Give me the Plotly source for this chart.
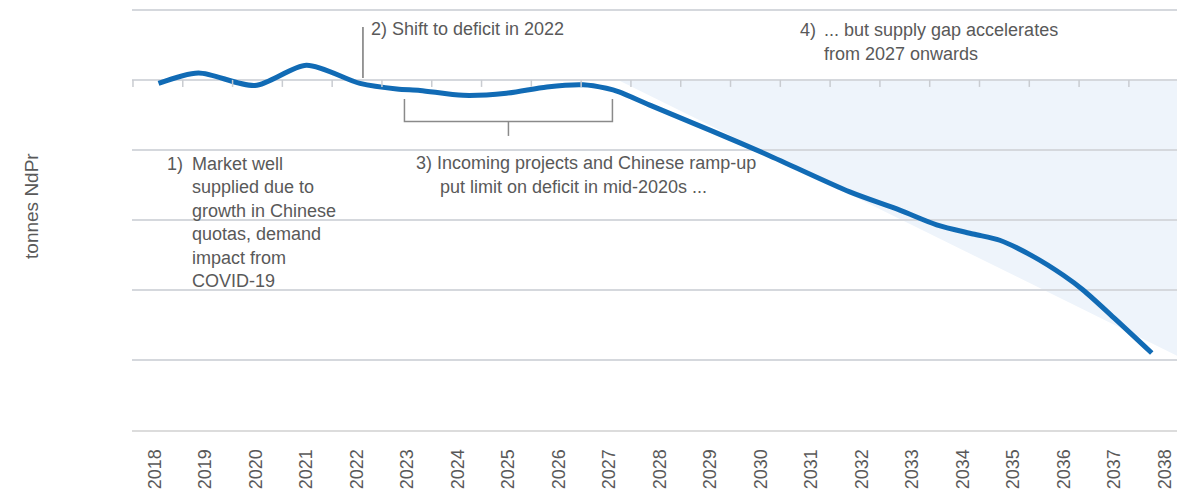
import plotly.graph_objects as go

# ---- data (y in grid units, one gridline = 1 unit) ----
years = [2018.07, 2018.86, 2019.98, 2021.00, 2022.06, 2022.79, 2023.25, 2024.10,
         2024.96, 2025.76, 2026.48, 2026.94, 2027.19, 2027.80, 2029.00, 2030.07,
         2031.76, 2032.75, 2033.48, 2034.20, 2034.73, 2035.39, 2035.99, 2036.38,
         2037.04, 2037.74]
balance = [-0.05, 0.10, -0.08, 0.21, -0.05, -0.13, -0.15, -0.22,
           -0.19, -0.10, -0.07, -0.12, -0.17, -0.36, -0.72, -1.05,
           -1.60, -1.86, -2.07, -2.20, -2.29, -2.52, -2.79, -3.00,
           -3.43, -3.90]
shade_x = [2027.17, 2038.24, 2038.24]
shade_y = [0.0, 0.0, -3.94]
tick_years = list(range(2018, 2039))
tick_labels = [str(y) for y in tick_years]
grid_vals = [-4, -3, -2, -1, 0, 1]

TXT = "#595959"
FONT = "Liberation Sans, Arial, sans-serif"
BLUE = "#116bb5"
GRID = "#d5d8dd"

X0, X1 = 2017.545, 2038.24
Y0, Y1 = -5.0, 1.07


def X(px):
    return 2018 + (px - 155) / 50.5


def Y(py):
    return (80 - py) / 70.0


fig = go.Figure()
fig.add_trace(go.Scatter(
    x=years, y=balance, mode="lines",
    line=dict(color=BLUE, width=5, shape="spline", smoothing=0.8),
    hoverinfo="skip", showlegend=False))

shapes = []
# shaded supply-gap wedge
path = "M " + " L ".join(f"{x},{y}" for x, y in zip(shade_x, shade_y)) + " Z"
shapes.append(dict(type="path", path=path, xref="x", yref="y", layer="below",
                   fillcolor="#eef4fb", line=dict(width=0)))
# small tick marks on the zero line (category boundaries)
for i in range(len(tick_years)):
    bx = X(133 + 49.8 * i)
    shapes.append(dict(type="line", xref="x", yref="y", x0=bx, x1=bx,
                       y0=0, y1=-0.1, line=dict(color="#c9ccd1", width=1.5)))
# 2) marker line
shapes.append(dict(type="line", xref="x", yref="y", x0=X(363), x1=X(363),
                   y0=Y(27), y1=Y(78), line=dict(color="#555555", width=1.2)))
# 3) bracket
bc = "#8a8a8a"
shapes.append(dict(type="path", xref="x", yref="y",
                   path=f"M {X(404.5)},{Y(99)} L {X(404.5)},{Y(121.5)} L {X(612.5)},{Y(121.5)} L {X(612.5)},{Y(99)}",
                   line=dict(color=bc, width=1.5)))
shapes.append(dict(type="line", xref="x", yref="y", x0=X(508.5), x1=X(508.5),
                   y0=Y(121.5), y1=Y(136), line=dict(color=bc, width=1.5)))

ann = []


def note(text, px, py, size=18, anchor="left"):
    ann.append(dict(text=text, x=X(px), y=Y(py), xref="x", yref="y",
                    xanchor=anchor, yanchor="middle", showarrow=False,
                    align="left", font=dict(family=FONT, size=size, color=TXT)))


note("1)", 165, 164)
note("Market well<br>supplied due to<br>growth in Chinese<br>quotas, demand<br>impact from<br>COVID-19",
     190, 223)
note("2) Shift to deficit in 2022", 369, 29)
note("3) Incoming projects and Chinese ramp-up", 414, 163)
note("put limit on deficit in mid-2020s ...", 438, 187)
note("4)", 798, 30)
note("... but supply gap accelerates", 822, 30)
note("from 2027 onwards", 822, 54)

ann.append(dict(text="tonnes NdPr", textangle=-90, xref="paper", yref="y",
                x=0, xshift=-100, y=Y(206), xanchor="center", yanchor="middle",
                showarrow=False, font=dict(family=FONT, size=19, color=TXT)))

fig.update_layout(
    width=1194, height=495,
    margin=dict(l=132, r=17, t=5, b=65),
    paper_bgcolor="white", plot_bgcolor="white",
    shapes=shapes, annotations=ann,
    xaxis=dict(range=[X0, X1], showgrid=False, zeroline=False,
               showline=True, linecolor="#dcdcdc", linewidth=2,
               tickvals=tick_years, ticktext=tick_labels, tickangle=-90,
               ticks="outside", ticklen=10, tickcolor="rgba(0,0,0,0)",
               tickfont=dict(family=FONT, size=18, color=TXT)),
    yaxis=dict(range=[Y0, Y1], tickvals=grid_vals, showticklabels=False,
               showgrid=True, gridcolor=GRID, gridwidth=1.5,
               zeroline=True, zerolinecolor=GRID, zerolinewidth=1.5,
               showline=False, ticks=""),
)

fig.write_html("out.html", config={"displayModeBar": False},
               post_script="document.body.style.margin='0';document.body.style.overflow='hidden';")
